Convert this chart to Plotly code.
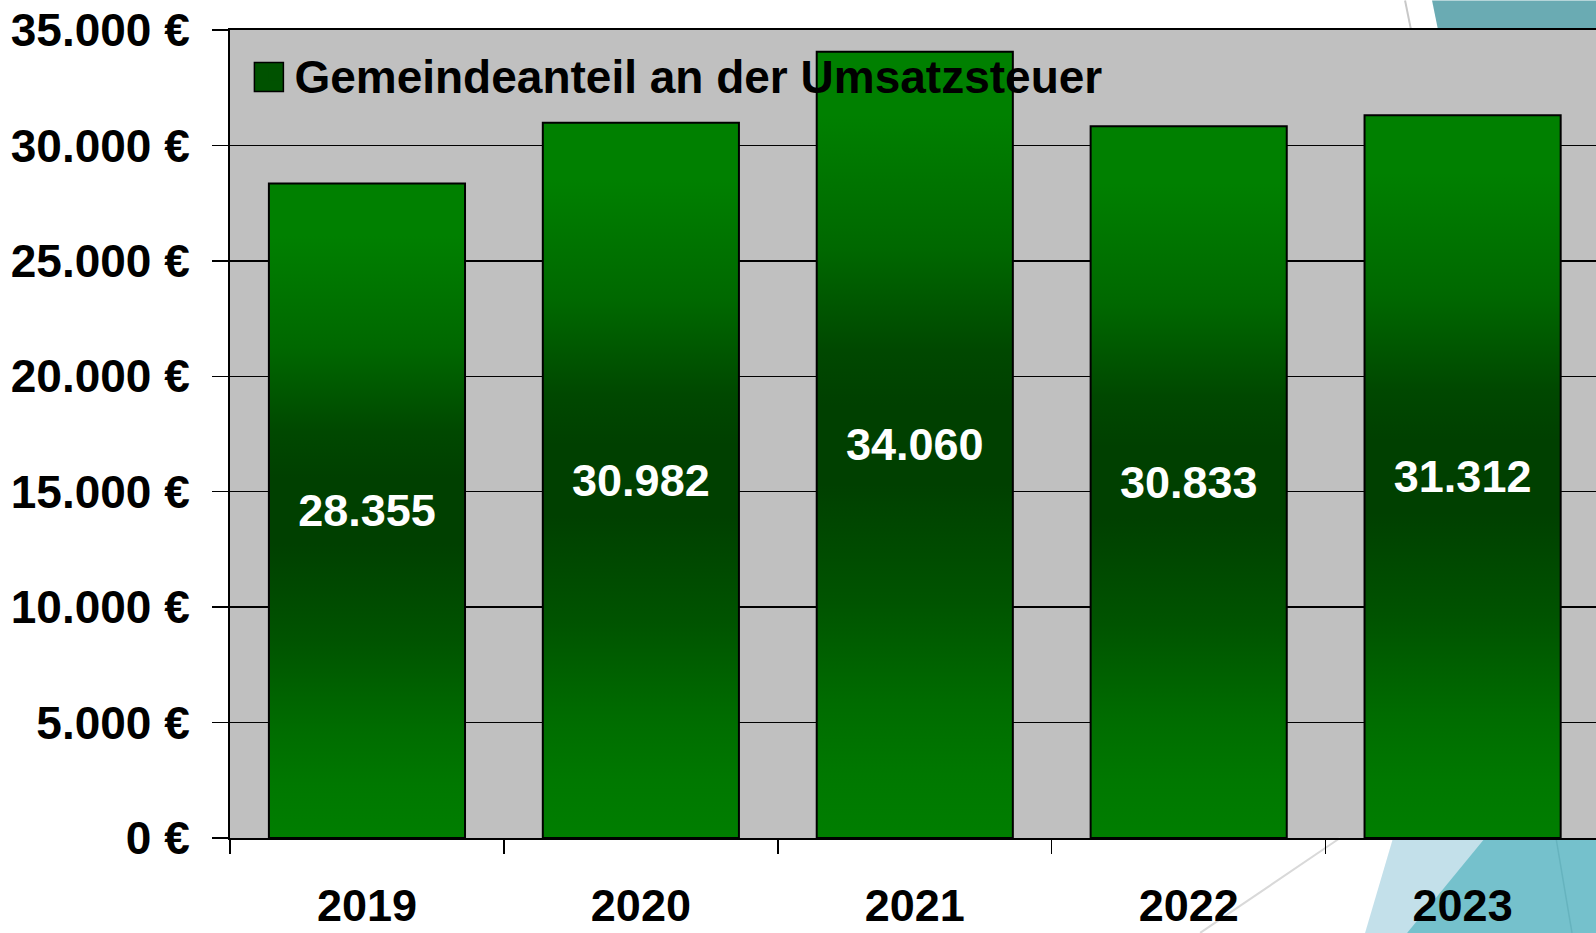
import plotly.graph_objects as go

# ---- data ----
years = ["2019", "2020", "2021", "2022", "2023"]
values = [28355, 30982, 34060, 30833, 31312]
y_ticks = [0, 5000, 10000, 15000, 20000, 25000, 30000, 35000]
y_tick_labels = ["0 €", "5.000 €", "10.000 €", "15.000 €", "20.000 €",
                 "25.000 €", "30.000 €", "35.000 €"]
series_name = "Gemeindeanteil an der Umsatzsteuer"

# ---- layout geometry (pixels) ----
W, H = 1596, 933
L, R, T, B = 229.6, 1596, 29.5, 838
BAR_W = 0.716
X_RANGE = [-0.5, 4.487]
FONT = "Liberation Sans, Arial, sans-serif"

def px_x(p):
    return (p - L) / (R - L)

def px_y(p):
    return (B - p) / (B - T)

# vertical gradient, 0 = bar bottom, 1 = bar top
grad = [[0.0, "#007e00"], [0.08, "#007800"], [0.17, "#006c00"], [0.30, "#005400"],
        [0.45, "#004000"], [0.55, "#004000"], [0.62, "#004800"], [0.75, "#006800"],
        [0.92, "#008000"], [1.0, "#008000"]]

fig = go.Figure()

# gradient fills for the bars (base subplot, drawn beneath the bar outlines)
for i, v in enumerate(values):
    fig.add_trace(go.Scatter(
        x=[i - BAR_W / 2, i + BAR_W / 2, i + BAR_W / 2, i - BAR_W / 2, i - BAR_W / 2],
        y=[0, 0, v, v, 0],
        mode="lines", fill="toself",
        line=dict(width=0, color="rgba(0,0,0,0)"),
        fillgradient=dict(type="vertical", colorscale=grad, start=0, stop=v),
        hoverinfo="skip", showlegend=False,
        xaxis="x", yaxis="y",
    ))

SWATCH = "#005200"
# legend entry
fig.add_trace(go.Bar(
    x=[None], y=[None], name=series_name,
    marker=dict(color=SWATCH, line=dict(color=SWATCH, width=0)),
    xaxis="x", yaxis="y", showlegend=True,
))

# the bars: outline + value labels
fig.add_trace(go.Bar(
    x=years, y=values, width=BAR_W,
    marker=dict(color="rgba(0,0,0,0)", line=dict(color="black", width=2)),
    texttemplate="%{y:,.0f}", textposition="inside", insidetextanchor="middle",
    textfont=dict(family=FONT, size=45, color="white", weight="bold"),
    constraintext="none",
    showlegend=False, name=series_name,
    xaxis="x2", yaxis="y2",
))

# decorations (slide background shapes, outside the plot area)
shapes = []
def poly(pts, fill, line_color=None, width=0, layer="below"):
    path = "M " + " L ".join(f"{px_x(a):.5f},{px_y(b):.5f}" for a, b in pts) + " Z"
    return dict(type="path", xref="paper", yref="paper", path=path,
                fillcolor=fill, line=dict(width=width, color=line_color or fill),
                layer=layer)
def seg(p0, p1, color, width):
    return dict(type="line", xref="paper", yref="paper",
                x0=px_x(p0[0]), y0=px_y(p0[1]), x1=px_x(p1[0]), y1=px_y(p1[1]),
                line=dict(color=color, width=width), layer="below")

shapes.append(poly([(1432, 0), (1596, 0), (1596, T), (1438, T)], "#6AABB3"))
shapes.append(seg((1405, 0), (1411, T), "#C8C8C8", 2))
shapes.append(poly([(1393, B), (1596, B), (1596, 933), (1365, 933)], "#C3E0EA"))
shapes.append(poly([(1485, B), (1596, B), (1596, 933), (1407, 933)], "#75C1CC"))
shapes.append(seg((1556, B), (1572, 933), "#66B3BE", 1.5))
shapes.append(seg((1340, B), (1200, 933), "#D9D9D9", 2))
# enlarged legend swatch
shapes.append(poly([(254, 62), (283, 62), (283, 91), (254, 91)], SWATCH,
                   line_color="black", width=1.5, layer="above"))

fig.update_layout(
    width=W, height=H, autosize=False,
    margin=dict(l=L, r=W - R, t=T, b=H - B, pad=0, autoexpand=False),
    paper_bgcolor="white", plot_bgcolor="#C0C0C0",
    separators=",.",
    barmode="overlay",
    font=dict(family=FONT, color="black"),
    shapes=shapes,
    showlegend=True,
    legend=dict(
        x=px_x(254), xanchor="left", y=px_y(74.5), yanchor="middle",
        bgcolor="rgba(0,0,0,0)", borderwidth=0,
        font=dict(family=FONT, size=46, color="black", weight="bold"),
        itemwidth=30,
    ),
    xaxis=dict(
        type="linear", range=X_RANGE, domain=[0, 1], automargin=False,
        showgrid=False, zeroline=False, showticklabels=False, ticks="",
        showline=True, linecolor="black", linewidth=2, mirror=True,
        fixedrange=True,
    ),
    yaxis=dict(
        range=[0, 35000], tickmode="array", tickvals=y_ticks, ticktext=y_tick_labels,
        automargin=False,
        showgrid=True, gridcolor="black", gridwidth=1.5, zeroline=False,
        showline=True, linecolor="black", linewidth=2,
        ticks="outside", ticklen=16, tickwidth=1.5, tickcolor="black",
        tickfont=dict(family=FONT, size=46, color="black", weight="bold"),
        ticklabelstandoff=13,
    ),
    xaxis2=dict(
        type="category", overlaying="x", anchor="y2", side="bottom",
        range=X_RANGE, categoryorder="array", categoryarray=years, automargin=False,
        tickson="boundaries", ticks="outside", ticklen=15, tickwidth=1.5,
        tickcolor="black", showgrid=False, showline=False, zeroline=False,
        tickfont=dict(family=FONT, size=45, color="black", weight="bold"),
        ticklabelstandoff=37,
    ),
    yaxis2=dict(
        overlaying="y", anchor="x2", range=[0, 35000], visible=False, automargin=False,
        showgrid=False, zeroline=False,
    ),
)

fig.write_html(
    "out.html",
    config={"displayModeBar": False, "staticPlot": True},
    post_script=(
        "var s=document.createElement('style');"
        "s.textContent='html,body{margin:0;padding:0;overflow:hidden;}"
        ".plotly-graph-div{display:block;}';"
        "document.head.appendChild(s);"
    ),
)
